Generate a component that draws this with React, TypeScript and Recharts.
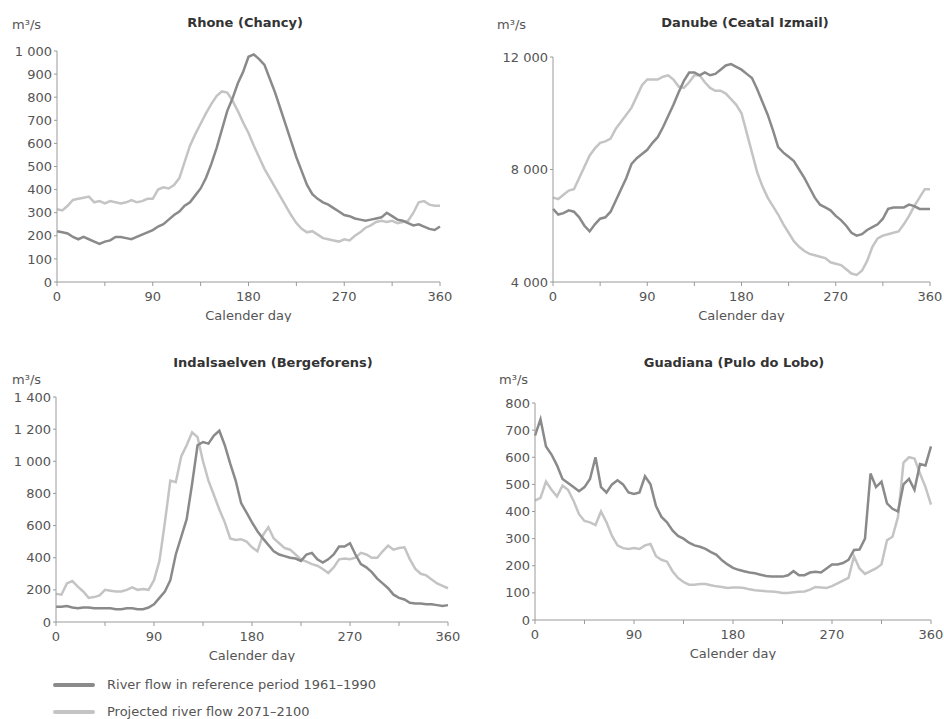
import { LineChart, Line, XAxis, YAxis } from "recharts";

const FONT = '"DejaVu Sans", Verdana, sans-serif';
const REF_COLOR = "#8a8a8a";
const PROJ_COLOR = "#c4c4c4";
const AXIS_COLOR = "#9a9a9a";
const TEXT_COLOR = "#555";

// calendar days, every 5 days
const days = [
  0, 5, 10, 15, 20, 25, 30, 35, 40, 45,
  50, 55, 60, 65, 70, 75, 80, 85, 90, 95,
  100, 105, 110, 115, 120, 125, 130, 135, 140, 145,
  150, 155, 160, 165, 170, 175, 180, 185, 190, 195,
  200, 205, 210, 215, 220, 225, 230, 235, 240, 245,
  250, 255, 260, 265, 270, 275, 280, 285, 290, 295,
  300, 305, 310, 315, 320, 325, 330, 335, 340, 345,
  350, 355, 360,
];
const dayTicks = [0, 45, 90, 135, 180, 225, 270, 315, 360];

// Rhone (Chancy)
const rhoneRef = [
  220, 215, 210, 195, 185, 195, 185, 175, 165, 175,
  180, 195, 195, 190, 185, 195, 205, 215, 225, 240,
  250, 270, 290, 305, 330, 345, 375, 405, 450, 510,
  580, 660, 740, 795, 860, 910, 975, 985, 965, 940,
  880, 820, 750, 680, 610, 540, 480, 420, 380, 360,
  345, 335, 320, 305, 290, 285, 275, 270, 265, 270,
  275, 280, 300, 285, 270, 265, 255, 245, 250, 240,
  230, 225, 240,
];
const rhoneProj = [
  315, 310, 330, 355, 360, 365, 370, 345, 350, 340,
  350, 345, 340, 345, 355, 345, 350, 360, 360, 400,
  410, 405, 420, 450, 520, 590, 640, 685, 730, 770,
  805, 825, 820, 785, 740, 690, 645, 590, 540, 490,
  450, 410, 370, 330, 290, 255, 230, 215, 220, 205,
  190, 185, 180, 175, 185, 180, 200, 215, 235, 245,
  260, 265, 260, 265, 255, 260, 265, 300, 345, 350,
  335, 330, 330,
];
const rhoneTicks = [0, 100, 200, 300, 400, 500, 600, 700, 800, 900, 1000];

// Danube (Ceatal Izmail)
const danubeRef = [
  6600, 6400, 6450, 6550, 6500, 6300, 6000, 5800, 6050, 6250,
  6300, 6500, 6900, 7300, 7700, 8200, 8400, 8550, 8700, 8950,
  9150, 9500, 9900, 10300, 10750, 11150, 11450, 11450, 11350, 11450,
  11350, 11400, 11550, 11700, 11750, 11650, 11550, 11400, 11250, 10850,
  10400, 9950, 9400, 8800, 8600, 8450, 8300, 8000, 7700, 7350,
  7000, 6750, 6650, 6550, 6350, 6200, 6000, 5750, 5650, 5700,
  5850, 5950, 6050, 6250, 6600, 6650, 6650, 6650, 6750, 6700,
  6600, 6600, 6600,
];
const danubeProj = [
  7000, 6950, 7100, 7250, 7300, 7700, 8100, 8500, 8750, 8950,
  9000, 9100, 9450, 9700, 9950, 10200, 10600, 11000, 11200, 11200,
  11200, 11300, 11350, 11200, 10950, 10900, 11100, 11350, 11350, 11100,
  10900, 10800, 10800, 10700, 10500, 10300, 10000, 9300, 8600, 7900,
  7400, 7000, 6700, 6400, 6050, 5750, 5450, 5250, 5100, 5000,
  4950, 4900, 4850, 4700, 4650, 4600, 4450, 4300, 4250, 4400,
  4750, 5250, 5550, 5650, 5700, 5750, 5800, 6050, 6350, 6700,
  7000, 7300, 7300,
];
const danubeTicks = [4000, 8000, 12000];

// Indalsaelven (Bergeforens)
const indalRef = [
  95, 95, 100, 90, 85, 90, 90, 85, 85, 85,
  85, 80, 80, 85, 85, 80, 80, 90, 110, 150,
  190, 260, 420, 530, 640, 860, 1100, 1120, 1110, 1160,
  1190, 1100, 985, 880, 740, 680, 620, 565, 520, 480,
  440, 420, 410, 400, 395, 380, 420, 430, 390, 370,
  390, 420, 470, 470, 490, 420, 360, 340, 310, 270,
  240, 210, 170, 150, 140, 120, 115, 115, 110, 110,
  105, 100, 105,
];
const indalProj = [
  175, 170, 240, 255, 220, 190, 150, 155, 165, 200,
  195, 190, 190, 200, 215, 200, 205, 200, 260, 380,
  620, 880, 870, 1030, 1100, 1180, 1150, 1000, 880, 790,
  700, 620, 520, 510, 515, 500, 465, 440, 540, 590,
  520, 490, 460, 450, 420, 390, 375, 360, 350, 330,
  305, 340, 390, 395, 390, 400, 430, 420, 400, 400,
  440, 475, 450, 460, 465, 390, 330, 300, 290, 265,
  240, 225, 210,
];
const indalTicks = [0, 200, 400, 600, 800, 1000, 1200, 1400];

// Guadiana (Pulo do Lobo)
const guadRef = [
  680, 740, 640, 610, 570, 520, 505, 490, 475, 490,
  520, 600, 490, 470, 500, 515, 500, 470, 465, 470,
  530, 500, 420, 380, 360, 330, 310, 300, 285, 275,
  270, 262, 250, 240, 220, 205, 192, 185, 180, 175,
  172, 167, 162, 160, 160, 160, 165, 180, 165, 165,
  175, 178, 175, 190, 205, 205, 210, 222, 258, 260,
  300, 540, 490, 510, 430, 410, 400, 500, 520, 480,
  575, 570, 640,
];
const guadProj = [
  440, 450, 510, 480, 455, 495, 480, 440, 390, 365,
  360, 350, 400, 360, 310, 275, 265, 262, 265, 262,
  275, 280, 235, 222, 215, 180, 155, 140, 130, 130,
  133, 133, 128, 124, 122, 118, 120, 120, 118, 113,
  110, 108, 106, 105, 103, 100, 100, 102, 104, 105,
  112, 122, 120, 118, 125, 135, 145, 155, 235, 190,
  170, 180, 190, 205, 294, 307, 380, 580, 600, 595,
  540, 490, 425,
];
const guadTicks = [0, 100, 200, 300, 400, 500, 600, 700, 800];

const toRows = (ref: number[], proj: number[]) =>
  days.map((d, i) => ({ day: d, ref: ref[i], proj: proj[i] }));

const fmtThousands = (v: number) => String(v).replace(/\B(?=(\d{3})+(?!\d))/g, " ");

type PanelProps = {
  left: number;
  top: number;
  width: number;
  height: number;
  marginTop: number;
  marginRight: number;
  yWidth: number;
  ticks: number[];
  data: { day: number; ref: number; proj: number }[];
};

function Panel(p: PanelProps) {
  const tickStyle = { fill: TEXT_COLOR, fontSize: 13, fontFamily: FONT };
  return (
    <div style={{ position: "absolute", left: p.left, top: p.top }}>
      <LineChart
        width={p.width}
        height={p.height}
        data={p.data}
        margin={{ top: p.marginTop, right: p.marginRight, bottom: 0, left: 0 }}
      >
        <XAxis
          dataKey="day"
          type="number"
          domain={[0, 360]}
          ticks={dayTicks}
          tickFormatter={(v: number) => (v % 90 === 0 ? String(v) : "")}
          stroke={AXIS_COLOR}
          tickSize={4}
          tickMargin={6}
          height={40}
          tick={tickStyle}
          interval={0}
          label={{
            value: "Calender day",
            position: "insideBottom",
            offset: 2,
            fill: TEXT_COLOR,
            fontSize: 13,
            fontFamily: FONT,
          }}
        />
        <YAxis
          type="number"
          domain={[p.ticks[0], p.ticks[p.ticks.length - 1]]}
          ticks={p.ticks}
          tickFormatter={fmtThousands}
          stroke={AXIS_COLOR}
          tickSize={3}
          tickMargin={2}
          width={p.yWidth}
          tick={tickStyle}
          interval={0}
          allowDataOverflow
        />
        <Line
          type="linear"
          dataKey="proj"
          stroke={PROJ_COLOR}
          strokeWidth={2.5}
          dot={false}
          isAnimationActive={false}
        />
        <Line
          type="linear"
          dataKey="ref"
          stroke={REF_COLOR}
          strokeWidth={2.5}
          dot={false}
          isAnimationActive={false}
        />
      </LineChart>
    </div>
  );
}

function Title({ x, y, text }: { x: number; y: number; text: string }) {
  return (
    <div
      style={{
        position: "absolute",
        left: x,
        top: y - 8,
        transform: "translateX(-50%)",
        whiteSpace: "nowrap",
        fontFamily: FONT,
        fontWeight: "bold",
        fontSize: 13,
        lineHeight: "16px",
        color: "#333",
      }}
    >
      {text}
    </div>
  );
}

function Unit({ x, y }: { x: number; y: number }) {
  return (
    <div
      style={{
        position: "absolute",
        left: x,
        top: y - 8,
        fontFamily: FONT,
        fontSize: 13,
        lineHeight: "16px",
        color: TEXT_COLOR,
      }}
    >
      m³/s
    </div>
  );
}

function LegendRow({ y, color, text }: { y: number; color: string; text: string }) {
  return (
    <>
      <div
        style={{
          position: "absolute",
          left: 53,
          top: y - 2,
          width: 42,
          height: 4,
          borderRadius: 2,
          background: color,
        }}
      />
      <div
        style={{
          position: "absolute",
          left: 107,
          top: y - 8,
          fontFamily: FONT,
          fontSize: 13,
          lineHeight: "16px",
          color: TEXT_COLOR,
          whiteSpace: "nowrap",
        }}
      >
        {text}
      </div>
    </>
  );
}

export default function App() {
  return (
    <div
      style={{
        position: "absolute",
        left: 0,
        top: 0,
        width: 944,
        height: 719,
        background: "#fff",
        overflow: "hidden",
      }}
    >
      {/* top left */}
      <Panel left={0} top={0} width={460} height={322} marginTop={51} marginRight={20} yWidth={57}
        ticks={rhoneTicks} data={toRows(rhoneRef, rhoneProj)} />
      <Title x={245} y={23} text="Rhone (Chancy)" />
      <Unit x={12} y={25} />

      {/* top right */}
      <Panel left={480} top={0} width={464} height={322} marginTop={57} marginRight={14} yWidth={73}
        ticks={danubeTicks} data={toRows(danubeRef, danubeProj)} />
      <Title x={745} y={23} text="Danube (Ceatal Izmail)" />
      <Unit x={497} y={25} />

      {/* bottom left */}
      <Panel left={0} top={340} width={460} height={322} marginTop={57} marginRight={12} yWidth={56}
        ticks={indalTicks} data={toRows(indalRef, indalProj)} />
      <Title x={273} y={363} text="Indalsaelven (Bergeforens)" />
      <Unit x={12} y={380} />

      {/* bottom right */}
      <Panel left={480} top={340} width={464} height={320} marginTop={63} marginRight={13} yWidth={55}
        ticks={guadTicks} data={toRows(guadRef, guadProj)} />
      <Title x={734} y={363} text="Guadiana (Pulo do Lobo)" />
      <Unit x={499} y={380} />

      <LegendRow y={685} color={REF_COLOR} text="River flow in reference period 1961–1990" />
      <LegendRow y={712} color={PROJ_COLOR} text="Projected river flow 2071–2100" />
    </div>
  );
}
